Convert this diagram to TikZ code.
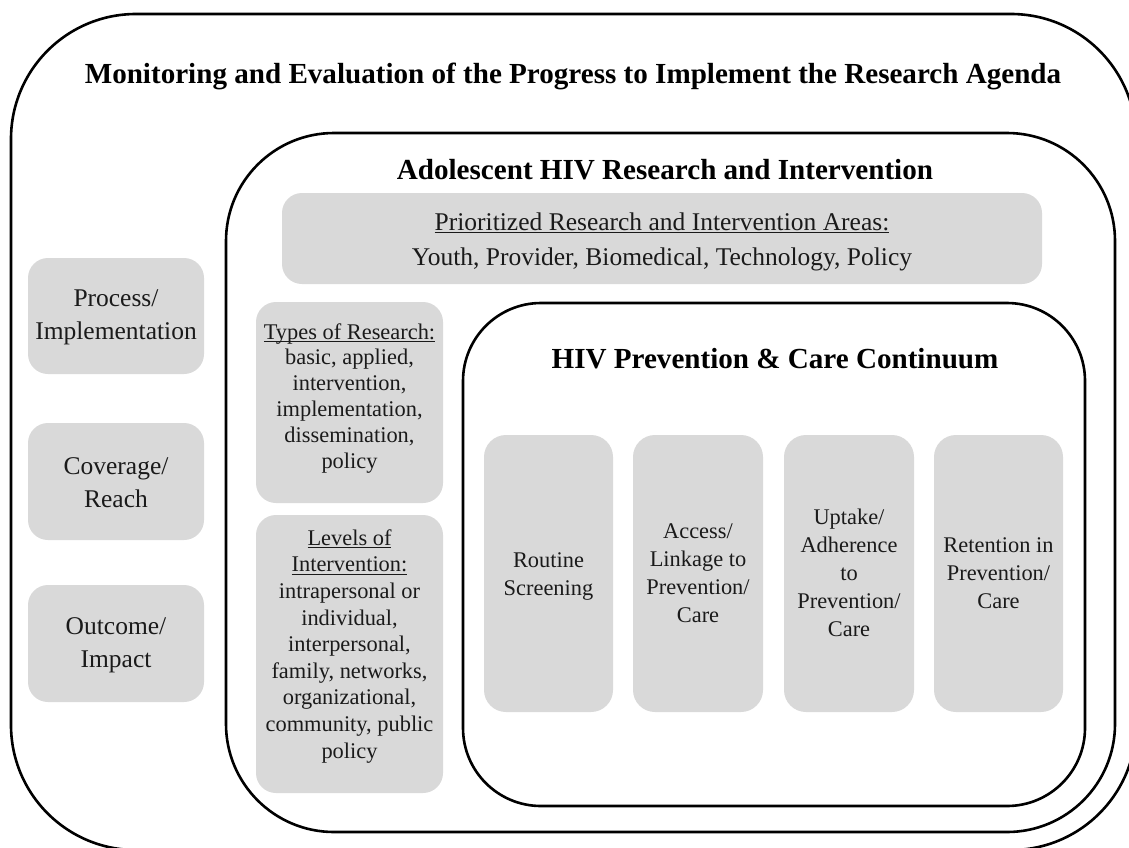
\documentclass[tikz,border=0pt]{standalone}
\usepackage{fontspec}
\setmainfont{Liberation Serif}
\definecolor{boxgray}{HTML}{D9D9D9}
\definecolor{txt}{HTML}{1A1A1A}
\newcommand\wul[1]{\setbox0\hbox{#1}\rlap{\rule[-2.8pt]{\wd0}{1.1pt}}\box0}
\begin{document}
\begin{tikzpicture}[x=1pt,y=-1pt,
  frame/.style={draw=black, line width=2.6pt, inner sep=0pt, outer sep=0pt},
  gbox/.style={fill=boxgray, rounded corners=20pt, inner sep=0pt, outer sep=0pt},
  ttl/.style={font=\fontsize{29.1}{35}\selectfont\bfseries, inner sep=0pt, anchor=base},
  lbl/.style={align=center, inner sep=0pt, anchor=base, text=txt},
  bigtxt/.style={lbl, font=\fontsize{25.5}{33}\selectfont},
  smalltxt/.style={lbl, font=\fontsize{22.4}{25.8}\selectfont},
  colltxt/.style={lbl, font=\fontsize{22.4}{28}\selectfont}]
\path[use as bounding box] (0,0) rectangle (1129,847);
\begin{scope}
\clip (0,0) rectangle (1129,847);
\fill[white] (0,0) rectangle (1129,847);
% frames
\draw[frame, rounded corners=125pt] (11,14) rectangle (1136,850);
\node[frame, rounded corners=108pt, minimum width=889pt, minimum height=699pt] (middle) at (670.5,482.5) {};
\node[frame, rounded corners=78pt, minimum width=622pt, minimum height=503pt] (inner) at (774,554.5) {};
\end{scope}
% titles
\node[ttl] (outerT) at (573,83) {Monitoring and Evaluation of the Progress to Implement the Research Agenda};
\node[ttl] (middleT) at (665,179) {Adolescent HIV Research and Intervention};
\node[ttl] (innerT) at (775,368) {HIV Prevention \& Care Continuum};
% left column
\node[gbox, minimum width=176pt, minimum height=116pt] (proc) at (116,316) {};
\node[gbox, minimum width=176pt, minimum height=117pt] (cov) at (116,481.5) {};
\node[gbox, minimum width=176pt, minimum height=117pt] (outc) at (116,643.5) {};
\node[bigtxt] (procT) at (116,339) {Process/\\Implementation};
\node[bigtxt] (covT) at (116,507) {Coverage/\\Reach};
\node[bigtxt] (outcT) at (116,667) {Outcome/\\Impact};
% prioritized
\node[gbox, minimum width=760pt, minimum height=91pt] (prio) at (662,238.5) {};
\node[lbl, font=\fontsize{25.5}{35}\selectfont] (prioT) at (662,265) {\wul{Prioritized Research and Intervention Areas:}\\Youth, Provider, Biomedical, Technology, Policy};
% types and levels
\node[gbox, minimum width=187pt, minimum height=201pt] (types) at (349.5,402.5) {};
\node[gbox, minimum width=187pt, minimum height=278pt] (levels) at (349.5,654) {};
\node[smalltxt] (typesT) at (349.5,468) {\wul{Types of Research:}\\basic, applied,\\intervention,\\implementation,\\dissemination,\\policy};
\node[lbl, font=\fontsize{22.4}{26.6}\selectfont] (levelsT) at (349.5,758) {\wul{Levels of}\\\wul{Intervention:}\\intrapersonal or\\individual,\\interpersonal,\\family, networks,\\organizational,\\community, public\\policy};
% continuum
\node[gbox, rounded corners=22pt, minimum width=129pt, minimum height=277pt] (routine) at (548.5,573.5) {};
\node[gbox, rounded corners=22pt, minimum width=130pt, minimum height=277pt] (access) at (698,573.5) {};
\node[gbox, rounded corners=22pt, minimum width=130pt, minimum height=277pt] (uptake) at (849,573.5) {};
\node[gbox, rounded corners=22pt, minimum width=129pt, minimum height=277pt] (retention) at (998.5,573.5) {};
\node[colltxt] (routineT) at (548.5,595) {Routine\\Screening};
\node[colltxt] (accessT) at (698,622) {Access/\\Linkage to\\Prevention/\\Care};
\node[colltxt] (uptakeT) at (849,636) {Uptake/\\Adherence\\to\\Prevention/\\Care};
\node[colltxt] (retentionT) at (998.5,608) {Retention in\\Prevention/\\Care};
\end{tikzpicture}
\end{document}
